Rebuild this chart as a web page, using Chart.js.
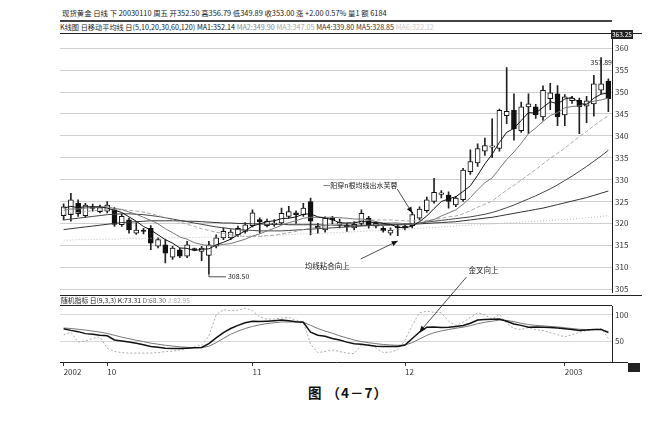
<!DOCTYPE html>
<html><head><meta charset="utf-8">
<script src="https://cdn.jsdelivr.net/npm/chart.js@4.4.0/dist/chart.umd.min.js"></script>
<style>
body{margin:0;background:#fff;width:656px;height:421px;overflow:hidden;position:relative;font-family:"Noto Sans CJK SC","DejaVu Sans",sans-serif;}
.t{position:absolute;white-space:nowrap;font-size:7.5px;color:#222;line-height:1;}
.ln{position:absolute;background:#222;height:1px;}
canvas{position:absolute;left:0;}
</style></head><body>
<div class="t" style="left:62px;top:9px;font-size:7.4px">现货黄金 日线 下 20030110 周五 开352.50 高356.79 低349.89 收353.00 涨 +2.00 0.57% 量1 额 6184</div>
<div class="ln" style="left:60px;top:20px;width:552px;height:2px;background:#444"></div>
<div class="t" style="left:60px;top:24px;font-size:7.2px">K线图 日移动平均线 日(5,10,20,30,60,120) <span style="color:#111">MA1:352.14</span> <span style="color:#888">MA2:349.90</span> <span style="color:#aaa">MA3:347.05</span> <span style="color:#333">MA4:339.80</span> <span style="color:#333">MA5:328.85</span> <span style="color:#ccc">MA6:322.12</span></div>
<div class="ln" style="left:60px;top:33px;width:582px"></div>
<canvas id="cA" width="656" height="300" style="top:0"></canvas>
<div class="ln" style="left:60px;top:295px;width:582px"></div>
<div class="t" style="left:61px;top:297px;font-size:6.8px">随机指标 日(9,3,3) <span>K:73.31</span> <span style="color:#666">D:68.30</span> <span style="color:#aaa">J:82.95</span></div>
<div class="ln" style="left:60px;top:305px;width:552px"></div>
<canvas id="cB" width="656" height="84" style="top:296px"></canvas>
<div class="ln" style="left:612px;top:362px;width:16px"></div>
<div class="t" style="left:611px;top:30px;background:#222;color:#fff;font-size:6.5px;padding:1px 1px">363.25</div>
<div style="position:absolute;left:628px;top:363px;width:12px;height:9px;background:#222"></div>
<div class="t" id="aTxt1" style="font-size:7px">一阳穿n根均线出水芙蓉</div>
<div class="t" id="aTxt2" style="font-size:7.5px">均线粘合向上</div>
<div class="t" id="aTxt3" style="font-size:7.5px">金叉向上</div>
<div class="t" id="lowTxt" style="font-size:7px">308.50</div>
<div class="t" id="highTxt" style="font-size:7px">357.89</div>
<div class="t" style="left:308px;top:386px;font-size:13.5px;font-weight:bold;color:#111;letter-spacing:1px">图 （4－7）</div>
<canvas id="ov" width="656" height="421" style="top:0;pointer-events:none"></canvas>
<script>
const dates = ['2002-09-23','2002-09-24','2002-09-25','2002-09-26','2002-09-27','2002-09-30',
'2002-10-01','2002-10-02','2002-10-08','2002-10-09','2002-10-10','2002-10-11','2002-10-14','2002-10-15','2002-10-16','2002-10-17','2002-10-18','2002-10-21','2002-10-22','2002-10-23','2002-10-24','2002-10-25','2002-10-28','2002-10-29','2002-10-30','2002-10-31',
'2002-11-01','2002-11-04','2002-11-05','2002-11-06','2002-11-07','2002-11-08','2002-11-11','2002-11-12','2002-11-13','2002-11-14','2002-11-15','2002-11-18','2002-11-19','2002-11-20','2002-11-21','2002-11-22','2002-11-25','2002-11-26','2002-11-27','2002-11-28','2002-11-29',
'2002-12-02','2002-12-03','2002-12-04','2002-12-05','2002-12-06','2002-12-09','2002-12-10','2002-12-11','2002-12-12','2002-12-13','2002-12-16','2002-12-17','2002-12-18','2002-12-19','2002-12-20','2002-12-23','2002-12-24','2002-12-25','2002-12-26','2002-12-27','2002-12-30','2002-12-31',
'2003-01-02','2003-01-03','2003-01-06','2003-01-07','2003-01-08','2003-01-09','2003-01-10'];
const monthTickDates = ['2002-09-23','2002-10-01','2002-11-01','2002-12-02','2003-01-02'];
const monthTickLabels = ['2002','10','11','12','2003'];
const priceTicks = [305,310,315,320,325,330,335,340,345,350,355,360];
const kdjTicks = [50,100];

const open  = [321.8,322.0,324.6,321.8,323.8,322.7,322.8,323.1,319.7,320.8,317.8,318.4,318.9,314.8,315.1,312.3,314.0,312.5,314.2,313.6,312.7,314.8,316.7,316.7,317.4,318.2,319.5,320.9,319.5,319.7,320.1,321.6,322.4,322.0,325.0,319.4,318.5,321.2,319.6,319.6,319.0,320.0,321.2,319.4,318.9,317.8,319.3,319.4,319.5,321.2,322.9,325.0,326.6,326.5,324.2,325.4,331.8,333.8,336.5,337.4,337.1,344.6,345.8,341.2,346.6,346.6,344.3,348.5,349.6,344.8,348.0,348.1,346.8,347.3,350.4,352.5];
const high  = [324.5,326.9,325.4,324.6,324.4,324.2,325.0,323.6,322.2,321.2,320.2,318.9,319.5,316.7,316.3,314.8,314.4,315.9,314.4,314.8,315.9,317.4,319.0,318.6,319.4,320.2,323.1,321.3,321.0,320.9,323.5,323.9,322.9,324.6,325.8,320.0,321.5,321.6,321.0,320.0,320.4,323.1,321.6,320.5,319.3,319.0,319.7,320.0,322.6,323.8,326.0,330.3,327.5,327.2,326.2,332.6,336.8,338.2,339.5,343.9,346.1,355.6,349.6,347.7,349.6,347.2,351.4,352.0,351.5,349.4,349.0,348.6,349.0,353.8,357.89,353.0];
const low   = [320.8,320.5,321.6,321.4,322.8,322.4,322.4,319.3,319.3,317.8,317.5,317.6,314.0,314.4,311.0,311.8,312.2,312.2,313.8,311.5,308.5,314.4,316.3,316.3,317.0,317.8,319.2,317.8,319.2,319.3,319.8,321.2,320.0,321.6,317.4,317.8,318.0,319.9,319.0,318.2,318.5,319.5,318.9,319.0,318.0,317.3,317.2,318.5,319.0,320.8,322.5,324.6,325.8,323.5,323.8,325.0,331.2,333.0,335.5,335.0,336.5,342.8,339.0,340.8,340.5,344.0,343.5,346.0,342.3,342.3,347.4,340.5,343.0,344.5,349.6,345.5];
const close = [323.8,325.4,322.2,324.2,323.4,323.6,324.2,319.8,321.6,318.5,318.5,318.2,315.5,316.3,313.2,314.4,312.5,315.1,314.0,314.4,315.1,316.7,318.2,318.0,318.9,319.7,322.4,320.4,320.5,320.1,322.3,322.7,322.0,323.5,320.5,318.9,321.2,320.8,320.3,319.2,319.8,322.3,319.7,320.0,318.3,318.5,319.0,319.0,322.0,323.3,325.4,327.1,327.0,325.0,325.8,332.2,334.1,337.1,337.8,337.7,345.8,345.6,341.6,346.6,347.3,344.8,350.4,349.8,344.3,348.9,348.6,346.6,348.0,351.9,351.9,348.5];

const ma5   = [323.5,323.9,323.6,323.8,323.8,323.8,323.5,323.0,322.5,321.5,320.5,319.3,318.5,317.4,316.3,315.5,314.4,314.3,313.8,314.1,314.2,315.1,315.7,316.4,317.4,318.3,319.4,319.9,320.4,320.6,321.1,321.2,321.5,322.1,322.2,321.5,321.2,320.9,320.1,320.1,320.1,320.5,320.3,320.2,320.0,319.8,319.1,319.0,319.4,320.4,321.7,323.4,325.0,325.6,326.1,327.3,328.6,331.0,333.6,335.8,338.5,340.8,341.7,343.5,345.3,345.2,346.5,347.8,347.3,348.4,348.8,347.5,347.1,348.6,349.5,349.8];
const ma10  = [323.0,323.3,323.3,323.5,323.6,323.7,323.8,323.4,323.2,322.6,322.1,321.4,320.7,319.9,318.8,317.9,316.9,316.4,315.6,315.2,314.9,315.0,315.2,315.4,315.9,316.4,317.1,317.6,318.3,318.9,319.6,320.2,320.6,321.2,321.4,321.4,321.4,321.4,321.3,321.2,321.0,321.0,320.8,320.4,320.1,320.1,320.1,319.9,319.8,320.1,320.5,320.9,321.7,322.4,323.1,324.4,325.9,327.7,329.3,330.4,332.5,334.6,336.3,338.3,340.5,341.8,343.3,344.6,345.3,346.4,346.7,346.8,347.4,347.9,348.2,348.6];
const ma20  = [322.0,322.3,322.5,322.7,322.9,323.0,323.1,323.1,323.1,323.0,322.8,322.6,322.2,321.8,321.3,320.8,320.3,319.8,319.3,318.8,318.4,318.0,317.7,317.4,317.2,317.0,317.0,317.0,317.2,317.3,317.6,317.9,318.2,318.6,318.9,319.1,319.4,319.6,319.9,320.1,320.3,320.6,320.7,320.8,320.8,320.8,320.7,320.6,320.6,320.6,320.7,320.9,321.2,321.5,321.7,322.2,322.9,323.7,324.4,325.1,326.4,327.6,328.7,329.9,331.1,332.3,333.6,334.9,336.0,337.2,338.5,339.8,341.0,342.3,343.5,344.6];
const ma30  = [320.8,321.0,321.2,321.4,321.6,321.8,322.0,322.1,322.2,322.2,322.1,322.0,321.8,321.6,321.3,321.0,320.7,320.4,320.1,319.8,319.5,319.2,319.0,318.8,318.6,318.5,318.4,318.3,318.3,318.3,318.3,318.4,318.5,318.6,318.7,318.8,318.9,319.0,319.1,319.2,319.3,319.4,319.5,319.6,319.7,319.8,319.8,319.9,320.0,320.1,320.3,320.5,320.7,320.9,321.1,321.3,321.5,321.8,322.1,322.5,323.0,323.6,324.2,324.9,325.6,326.3,327.1,327.9,328.8,329.8,330.8,331.9,333.0,334.2,335.4,336.7];
const ma60  = [318.6,318.8,319.0,319.2,319.4,319.6,319.8,320.0,320.2,320.3,320.4,320.5,320.6,320.6,320.6,320.6,320.6,320.5,320.5,320.4,320.3,320.2,320.1,320.1,320.0,320.0,319.9,319.9,319.8,319.8,319.8,319.7,319.7,319.7,319.7,319.7,319.6,319.6,319.6,319.6,319.6,319.6,319.6,319.6,319.6,319.6,319.7,319.7,319.8,319.9,320.0,320.1,320.2,320.3,320.4,320.6,320.8,321.0,321.2,321.4,321.7,322.0,322.3,322.6,322.9,323.2,323.5,323.9,324.3,324.7,325.1,325.5,325.9,326.4,326.9,327.4];
const ma120 = [316.2,316.2,316.3,316.3,316.3,316.4,316.4,316.4,316.5,316.5,316.5,316.6,316.6,316.6,316.7,316.7,316.7,316.8,316.8,316.8,316.9,316.9,317.0,317.0,317.1,317.1,317.2,317.2,317.3,317.3,317.4,317.5,317.5,317.6,317.7,317.7,317.8,317.9,317.9,318.0,318.1,318.2,318.3,318.3,318.4,318.5,318.6,318.7,318.8,318.9,319.0,319.1,319.2,319.3,319.4,319.5,319.6,319.7,319.8,319.9,320.0,320.1,320.2,320.3,320.4,320.5,320.6,320.7,320.8,320.9,321.0,321.1,321.3,321.4,321.6,321.8];

const kLine = [73.5,70.4,68,64.2,63,61.1,60,52,50,48,45.7,43,39.5,38,36.4,36,36,36.4,37,37.7,45,56,66,74,80,85,88,87.2,88,89,90.2,89,87,85.8,67,61.1,59,55,52,48,45,44,42,40,39.5,39.5,39.5,42.6,55,67.3,76.6,77,76,76.6,78,79.6,84,90.2,91,91.5,92,88,82.7,80,76.6,77,76.6,76,75,73.5,72,70.4,71,72,72.3,66];
const dLine = [75,74,72.5,71,69,67,64.5,61,57.5,54.5,51.5,49,46,44,42,40.5,39,38,37.5,37.5,40,47,55,63,69,74,78,81,83.5,85,86.5,86.5,86.5,86,80,74,69,65,60,56,52,49,47,45,43.5,42.5,42,42.5,47,54,61,66,69.5,72,74.5,76.5,79.5,83,86,88,90,89.5,87,84,81.5,80,79,78,77,75.5,74,72.5,72,72,72,68.3];
const jLine = [62,67,48,50,55,58,36,30,28,27,27,27,27,28,30,30.5,33,36,39,42,60,100,110,108,109,113,108,96,92,92,94,95,90,86,44,28,30,33,30,27,26,42,44,37,28,29,33,52,80,104,107,105,104,88,80,86,95,104,100,92,101,84,74,72,76,72,70,66,62,58,62,67,70,72,74,55];

Chart.defaults.font.family = '"Noto Sans CJK SC","DejaVu Sans",sans-serif';
const fixW = s => { s.width = 44; };

const lineDs = (data, color, dash, w) => ({type:'line', data, borderColor:color, borderWidth:w||1, borderDash:dash||[], pointRadius:0, tension:0, order:0, fill:false});

const chartA = new Chart(document.getElementById('cA'), {
  type:'bar',
  data:{labels:dates, datasets:[
    lineDs(ma5,'#111'), lineDs(ma10,'#777'), lineDs(ma20,'#aaa',[4,2]),
    lineDs(ma30,'#444'), lineDs(ma60,'#333'), lineDs(ma120,'#bbb',[1,2]),
    {label:'body', data:open.map((o,i)=>[o,close[i]]), grouped:false, barThickness:5, minBarLength:1.2, borderSkipped:false, borderWidth:1, borderColor:'#111',
     backgroundColor:c=>close[c.dataIndex]>=open[c.dataIndex]?'#fff':'#111', order:1},
    {label:'wick', data:low.map((l,i)=>[l,high[i]]), grouped:false, barThickness:1, backgroundColor:'#222', borderWidth:0, order:2}
  ]},
  options:{responsive:false, animation:false, devicePixelRatio:1,
    layout:{padding:{left:60,top:34,right:0,bottom:5}},
    plugins:{legend:{display:false}, tooltip:{enabled:false}},
    scales:{
      x:{display:false, offset:true},
      y:{position:'right', min:304.3, max:363.25, afterFit:fixW,
         afterBuildTicks:s=>{s.ticks=priceTicks.map(v=>({value:v}));},
         ticks:{font:{size:8}, color:'#333', padding:3},
         grid:{color:'#cfcfcf', borderDash:[1,3], drawTicks:false},
         border:{display:true, color:'#222', dash:[]}}
    }}
});

const chartB = new Chart(document.getElementById('cB'), {
  type:'line',
  data:{labels:dates, datasets:[
    {data:kLine, borderColor:'#111', borderWidth:1.5, pointRadius:0},
    {data:dLine, borderColor:'#777', borderWidth:1, pointRadius:0},
    {data:jLine, borderColor:'#aaa', borderWidth:1, borderDash:[2,2], pointRadius:0}
  ]},
  options:{responsive:false, animation:false, devicePixelRatio:1,
    layout:{padding:{left:60,top:10,right:0,bottom:0}},
    plugins:{legend:{display:false}, tooltip:{enabled:false}},
    scales:{
      x:{offset:true, afterFit:s=>{s.height=18;},
         ticks:{autoSkip:false, maxRotation:0, align:'start', font:{size:8}, color:'#333', padding:1,
           callback:(v,i)=>{const k=monthTickDates.indexOf(dates[i]); return k>=0?monthTickLabels[k]:null;}},
         grid:{offset:false, drawOnChartArea:false, tickLength:4, color:'#333'},
         border:{display:true, color:'#222'}},
      y:{position:'right', min:10, max:117, afterFit:fixW,
         afterBuildTicks:s=>{s.ticks=kdjTicks.map(v=>({value:v}));},
         ticks:{font:{size:8}, color:'#333', padding:3},
         grid:{color:'#d8d8d8', borderDash:[1,3], drawTicks:false},
         border:{display:true, color:'#222'}}
    }}
});

// annotations anchored through the scales
const xa=chartA.scales.x, ya=chartA.scales.y, xb=chartB.scales.x, yb=chartB.scales.y, BT=296;
const ctx=document.getElementById('ov').getContext('2d');
ctx.strokeStyle='#222'; ctx.fillStyle='#111'; ctx.lineWidth=0.8;
function arrow(x1,y1,x2,y2){
  ctx.beginPath(); ctx.moveTo(x1,y1); ctx.lineTo(x2,y2); ctx.stroke();
  const a=Math.atan2(y2-y1,x2-x1), L=6, W=2.6;
  ctx.beginPath(); ctx.moveTo(x2,y2);
  ctx.lineTo(x2-L*Math.cos(a)+W*Math.sin(a), y2-L*Math.sin(a)-W*Math.cos(a));
  ctx.lineTo(x2-L*Math.cos(a)-W*Math.sin(a), y2-L*Math.sin(a)+W*Math.cos(a));
  ctx.closePath(); ctx.fill();
}
function place(id,left,top){const e=document.getElementById(id); e.style.left=left+'px'; e.style.top=top+'px'; return e;}
// 1 一阳穿n根均线
let tx=xa.getPixelForValue(48), ty=ya.getPixelForValue(high[48])+1;
arrow(tx-15,ty-24,tx,ty);
const e1=place('aTxt1',0,ty-31); e1.style.left=(tx-15-e1.offsetWidth)+'px';
// 2 均线粘合向上
tx=xa.getPixelForValue(46); ty=ya.getPixelForValue(316.0);
arrow(tx-37,ty+18,tx,ty);
place('aTxt2',tx-93,ty+21);
// 3 金叉向上
tx=xb.getPixelForValue(49); ty=yb.getPixelForValue(kLine[49])+BT;
arrow(tx+47,ty-55,tx,ty);
place('aTxt3',tx+49,ty-66);
// low label
let lx=xa.getPixelForValue(20), ly=ya.getPixelForValue(low[20]);
ctx.beginPath(); ctx.moveTo(lx,ly); ctx.lineTo(lx,ly+3); ctx.lineTo(lx+17,ly+3); ctx.stroke();
place('lowTxt',lx+19,ly-1);
// high label
const hx=xa.getPixelForValue(74), hy=ya.getPixelForValue(high[74]);
const e5=place('highTxt',0,hy+2); e5.style.left=(hx-e5.offsetWidth/2)+'px';
</script>
</body></html>
